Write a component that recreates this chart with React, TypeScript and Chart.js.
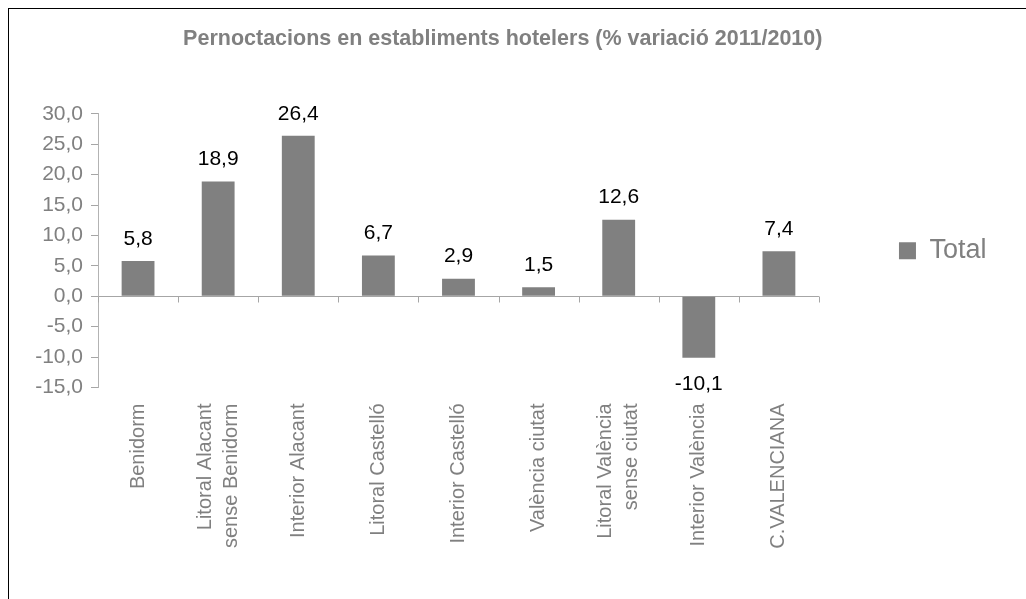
import React, { useEffect, useRef } from 'react';
import { Chart, registerables } from 'chart.js';

Chart.register(...registerables);

const FONT = '"Liberation Sans", Arial, Helvetica, sans-serif';

const titleText = 'Pernoctacions en establiments hotelers (% variació 2011/2010)';
const seriesName = 'Total';
const categories: (string | string[])[] = [
  'Benidorm',
  ['Litoral Alacant', 'sense Benidorm'],
  'Interior Alacant',
  'Litoral Castelló',
  'Interior Castelló',
  'València ciutat',
  ['Litoral València', 'sense ciutat'],
  'Interior València',
  'C.VALENCIANA',
];
const totalValues = [5.8, 18.9, 26.4, 6.7, 2.9, 1.5, 12.6, -10.1, 7.4];
const yMin = -15;
const yMax = 30;
const yStep = 5;

const fmt = (v: number) => v.toFixed(1).replace('.', ',');

// both category axes start right under the plot area and reach the canvas bottom
const alignXAxes = {
  id: 'alignXAxes',
  afterLayout(chart: any) {
    const top = chart.chartArea.bottom;
    ['x', 'x2'].forEach((id) => {
      const s = chart.scales[id];
      if (!s) return;
      s.top = top;
      s.bottom = chart.height;
      s.height = chart.height - top;
      s._labelItems = null;
    });
  },
};

const zeroTicks = {
  id: 'zeroTicks',
  afterDatasetsDraw(chart: any) {
    const xs = chart.scales.x;
    const ys = chart.scales.y;
    const ctx = chart.ctx;
    const y0 = Math.round(ys.getPixelForValue(0)) + 0.5;
    const n = chart.data.labels.length;
    const step = xs.getPixelForValue(1) - xs.getPixelForValue(0);
    ctx.save();
    ctx.strokeStyle = '#a6a6a6';
    ctx.lineWidth = 1;
    ctx.beginPath();
    for (let i = 0; i <= n; i++) {
      const x = Math.round(xs.getPixelForValue(i) - step / 2) + 0.5;
      ctx.moveTo(x, y0);
      ctx.lineTo(x, y0 + 6);
    }
    ctx.stroke();
    ctx.restore();
  },
};

const dataLabels = {
  id: 'dataLabels',
  afterDatasetsDraw(chart: any) {
    const ctx = chart.ctx;
    const meta = chart.getDatasetMeta(0);
    const values = chart.data.datasets[0].data as number[];
    ctx.save();
    ctx.font = `21px ${FONT}`;
    ctx.fillStyle = '#000000';
    ctx.textAlign = 'center';
    ctx.textBaseline = 'middle';
    meta.data.forEach((el: any, i: number) => {
      const v = values[i];
      const { x, y } = el.getProps(['x', 'y'], true);
      ctx.fillText(fmt(v), x, v >= 0 ? y - 22 : y + 26);
    });
    ctx.restore();
  },
};

export default function App() {
  const ref = useRef<HTMLCanvasElement>(null);

  useEffect(() => {
    const tickFont = { family: FONT, size: 20, lineHeight: 1.3 };
    const chart = new Chart(ref.current as HTMLCanvasElement, {
      type: 'bar',
      data: {
        labels: categories,
        datasets: [
          {
            label: seriesName,
            data: totalValues,
            backgroundColor: '#808080',
            borderWidth: 0,
            barPercentage: 0.41,
            categoryPercentage: 1,
            xAxisID: 'x',
            yAxisID: 'y',
          },
        ],
      },
      options: {
        animation: false,
        responsive: true,
        maintainAspectRatio: false,
        layout: { padding: { left: 0, right: 20.5, top: 0, bottom: 0 } },
        plugins: {
          title: {
            display: true,
            text: titleText,
            color: '#808080',
            font: { family: FONT, size: 21.5, weight: 'bold' },
            padding: { top: 17.6, bottom: 61.5 },
          },
          legend: {
            position: 'right',
            fullSize: false,
            labels: {
              boxWidth: 17,
              boxHeight: 17,
              padding: 80,
              color: '#808080',
              font: { family: FONT, size: 27 },
            },
          },
          tooltip: { enabled: false },
        },
        scales: {
          y: {
            min: yMin,
            max: yMax,
            ticks: {
              stepSize: yStep,
              autoSkip: false,
              padding: 8,
              color: '#808080',
              font: { family: FONT, size: 21 },
              callback: (v: any) => fmt(Number(v)),
            },
            grid: {
              color: (c: any) => (c.tick && c.tick.value === 0 ? '#a6a6a6' : 'rgba(0,0,0,0)'),
              tickColor: '#a6a6a6',
              tickLength: 7,
              lineWidth: 1,
            },
            border: { display: true, color: '#b3b3b3' },
            afterFit: (s: any) => {
              s.width = 89;
            },
          },
          x: {
            type: 'category',
            position: 'bottom',
            offset: true,
            weight: 0,
            grid: { display: false, drawTicks: false },
            border: { display: false },
            ticks: {
              autoSkip: false,
              minRotation: 90,
              maxRotation: 90,
              padding: 16,
              color: '#808080',
              font: tickFont,
              callback: (_v: any, i: number) => {
                const l = categories[i];
                return Array.isArray(l) ? '' : l;
              },
            },
            afterFit: (s: any) => {
              s.height = 211.5;
            },
          },
          x2: {
            type: 'category',
            position: 'bottom',
            offset: true,
            weight: 1,
            grid: { display: false, drawTicks: false },
            border: { display: false },
            ticks: {
              autoSkip: false,
              minRotation: 90,
              maxRotation: 90,
              padding: 16,
              labelOffset: -13,
              color: '#808080',
              font: tickFont,
              callback: (_v: any, i: number) => {
                const l = categories[i];
                return Array.isArray(l) ? l : '';
              },
            },
            afterFit: (s: any) => {
              s.height = 0;
            },
          },
        },
      } as any,
      plugins: [alignXAxes, zeroTicks, dataLabels],
    });
    return () => chart.destroy();
  }, []);

  return (
    <div
      style={{
        position: 'absolute',
        left: 8,
        top: 8,
        width: 1017,
        height: 590,
        borderLeft: '1px solid #000',
        borderTop: '1px solid #000',
        overflow: 'hidden',
        background: '#fff',
      }}
    >
      <div style={{ position: 'absolute', left: 0, top: 0, width: 1008, height: 590 }}>
        <canvas ref={ref} />
      </div>
    </div>
  );
}
